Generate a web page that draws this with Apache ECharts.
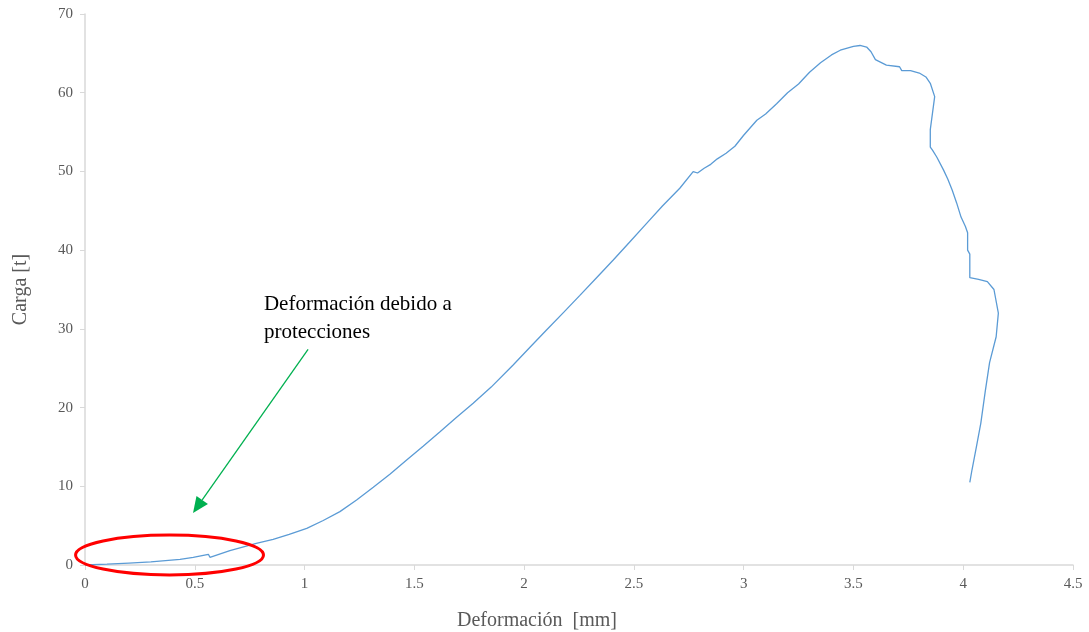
<!DOCTYPE html>
<html>
<head>
<meta charset="utf-8">
<script src="https://cdn.jsdelivr.net/npm/echarts@6/dist/echarts.min.js"></script>
<style>html,body{margin:0;padding:0;background:#fff}#c{width:1089px;height:632px}</style>
</head>
<body>
<div id="c"></div>
<script>
// Deformación [mm]
const deformacion = [0, 0.1, 0.2, 0.3, 0.433, 0.493, 0.562, 0.569, 0.66, 0.751, 0.78, 0.857, 0.93, 1.01, 1.085, 1.161, 1.237, 1.313, 1.39, 1.465, 1.54, 1.617, 1.69, 1.768, 1.85, 1.95, 2.03, 2.102, 2.18, 2.254, 2.33, 2.406, 2.48, 2.558, 2.63, 2.709, 2.77, 2.79, 2.82, 2.85, 2.88, 2.92, 2.96, 3.0, 3.06, 3.1, 3.15, 3.2, 3.25, 3.3, 3.35, 3.4, 3.44, 3.5, 3.53, 3.56, 3.58, 3.6, 3.65, 3.71, 3.72, 3.76, 3.8, 3.83, 3.85, 3.87, 3.86, 3.85, 3.85, 3.86, 3.88, 3.91, 3.93, 3.95, 3.97, 3.99, 4.01, 4.02, 4.02, 4.03, 4.03, 4.07, 4.11, 4.14, 4.16, 4.15, 4.12, 4.10, 4.08, 4.06, 4.04, 4.03];
// Carga [t]
const carga = [0, 0.1, 0.25, 0.4, 0.72, 0.98, 1.36, 0.98, 1.82, 2.54, 2.75, 3.26, 3.9, 4.66, 5.65, 6.78, 8.25, 9.87, 11.55, 13.34, 15.1, 16.94, 18.7, 20.54, 22.6, 25.4, 27.75, 29.85, 32.1, 34.25, 36.5, 38.75, 41.0, 43.4, 45.6, 47.86, 49.97, 49.8, 50.4, 50.9, 51.6, 52.3, 53.2, 54.6, 56.5, 57.3, 58.6, 60.0, 61.1, 62.6, 63.8, 64.8, 65.4, 65.9, 66.0, 65.8, 65.2, 64.2, 63.5, 63.3, 62.8, 62.8, 62.5, 62.0, 61.2, 59.5, 57.4, 55.3, 53.1, 52.7, 51.8, 50.2, 49.0, 47.6, 46.0, 44.2, 43.0, 42.2, 40.0, 39.5, 36.5, 36.3, 36.0, 35.0, 32.0, 29.0, 25.7, 22.0, 18.0, 15.0, 12.1, 10.5];
const xTicks = [0, 0.5, 1, 1.5, 2, 2.5, 3, 3.5, 4, 4.5];
const yTicks = [0, 10, 20, 30, 40, 50, 60, 70];
const xTitle = 'Deformación  [mm]';
const yTitle = 'Carga [t]';
const noteLines = ['Deformación debido a', 'protecciones'];
// annotation anchors in data units
const ellipseCenter = [0.385, 1.27];
const ellipseEdge = [0.813, 3.8];   // right x / top y of ellipse
const arrowFrom = [1.016, 27.4];
const arrowTo = [0.492, 6.6];
const noteAt = [0.815, 34.9];

const data = deformacion.map((x, i) => [x, carga[i]]);
const chart = echarts.init(document.getElementById('c'));
const axisFont = {fontFamily: 'Liberation Serif', color: '#595959'};
chart.setOption({
  animation: false,
  grid: {left: 85, right: 16, top: 14, bottom: 67, containLabel: false, outerBoundsMode: 'none'},
  xAxis: {
    type: 'value', min: xTicks[0], max: xTicks[xTicks.length - 1], interval: 0.5,
    name: xTitle, nameLocation: 'middle', nameGap: 46,
    nameTextStyle: Object.assign({fontSize: 20, padding: [0, 84, 0, 0]}, axisFont),
    axisLine: {show: true, lineStyle: {color: '#d9d9d9', width: 1.5}},
    axisTick: {show: true, length: 5, lineStyle: {color: '#d9d9d9'}},
    axisLabel: Object.assign({fontSize: 15, margin: 12}, axisFont),
    splitLine: {show: false}
  },
  yAxis: {
    type: 'value', min: yTicks[0], max: yTicks[yTicks.length - 1], interval: 10,
    name: yTitle, nameLocation: 'middle', nameGap: 54, nameRotate: 90,
    nameTextStyle: Object.assign({fontSize: 20}, axisFont),
    axisLine: {show: true, lineStyle: {color: '#d9d9d9', width: 1.5}},
    axisTick: {show: true, length: 5, lineStyle: {color: '#d9d9d9'}},
    axisLabel: Object.assign({fontSize: 15, margin: 12}, axisFont),
    splitLine: {show: false}
  },
  series: [{
    type: 'line', data: data, showSymbol: false, symbol: 'none',
    lineStyle: {color: '#5b9bd5', width: 1.3}
  }]
});

function px(p) { return chart.convertToPixel({gridIndex: 0}, p); }
const c = px(ellipseCenter), e = px(ellipseEdge);
const a0 = px(arrowFrom), a1 = px(arrowTo), t = px(noteAt);
const dx = a1[0] - a0[0], dy = a1[1] - a0[1], L = Math.hypot(dx, dy);
const ux = dx / L, uy = dy / L, hl = 16, hw = 7;
const bx = a1[0] - ux * hl, by = a1[1] - uy * hl;
chart.setOption({
  graphic: [
    {type: 'ellipse', shape: {cx: c[0], cy: c[1], rx: e[0] - c[0], ry: c[1] - e[1]},
     style: {fill: 'none', stroke: '#ff0000', lineWidth: 3}, z: 10},
    {type: 'line', shape: {x1: a0[0], y1: a0[1], x2: bx, y2: by},
     style: {stroke: '#00b050', lineWidth: 1.3}, z: 10},
    {type: 'polygon', shape: {points: [[a1[0], a1[1]], [bx - uy * hw, by + ux * hw], [bx + uy * hw, by - ux * hw]]},
     style: {fill: '#00b050'}, z: 10},
    {type: 'text', x: t[0], y: t[1], z: 10,
     style: {text: noteLines.join('\n'), font: '21px "Liberation Serif"', fill: '#000000', lineHeight: 28, textVerticalAlign: 'top'}}
  ]
});
</script>
</body>
</html>
